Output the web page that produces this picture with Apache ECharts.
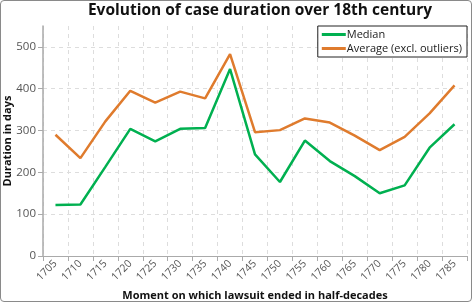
<!DOCTYPE html>
<html>
<head>
<meta charset="utf-8">
<script src="https://cdn.jsdelivr.net/npm/echarts@6/dist/echarts.min.js"></script>
<style>
  html, body { margin: 0; padding: 0; background: #fff; }
  #chart {
    width: 470px;
    height: 300px;
    border: 1px solid #8a8a8a;
    border-radius: 4px;
  }
</style>
</head>
<body>
<div id="chart"></div>
<script>
const years = ["1705", "1710", "1715", "1720", "1725", "1730", "1735", "1740", "1745",
  "1750", "1755", "1760", "1765", "1770", "1775", "1780", "1785"];
const median = [122, 123, 213, 304, 274, 304, 306, 447, 243, 177, 276, 227, 191, 150, 169, 259, 315];
const average = [290, 234, 322, 395, 367, 393, 377, 483, 296, 301, 329, 319, 288, 253, 285, 341, 408];

const chart = echarts.init(document.getElementById("chart"));

const option = {
  animation: false,
  title: {
    text: "Evolution of case duration over 18th century",
    left: 254,
    textAlign: "center",
    top: -3,
    textStyle: {
      fontFamily: "Open Sans",
      fontSize: 15.5,
      fontWeight: "bold",
      color: "#111",
    },
  },
  grid: {
    left: 42,
    right: 4,
    top: 25,
    bottom: 45,
    outerBoundsMode: "none",
    containLabel: false,
  },
  legend: {
    right: 4,
    top: 25,
    orient: "vertical",
    itemWidth: 24,
    itemHeight: 3,
    itemGap: 3,
    padding: [3, 5, 3, 4],
    borderColor: "#222",
    borderWidth: 1,
    borderRadius: 0,
    backgroundColor: "#fff",
    icon: "rect",
    textStyle: {
      fontFamily: "Open Sans",
      fontSize: 11,
      color: "#222",
      padding: [0, 0, 0, -4],
    },
    data: ["Median", "Average (excl. outliers)"],
  },
  xAxis: {
    type: "category",
    data: years,
    boundaryGap: true,
    name: "Moment on which lawsuit ended in half-decades",
    nameLocation: "middle",
    nameGap: 34,
    nameMoveOverlap: false,
    nameTextStyle: {
      fontFamily: "Open Sans",
      fontSize: 11,
      fontWeight: "bold",
      color: "#111",
    },
    axisLine: { lineStyle: { color: "#aaa", width: 1 } },
    axisTick: { show: true, length: 5, lineStyle: { color: "#aaa" } },
    axisLabel: {
      rotate: 45,
      interval: 0,
      fontFamily: "Open Sans",
      fontSize: 10.5,
      color: "#555",
      margin: 6,
    },
    splitLine: {
      show: true,
      lineStyle: { color: "#ddd", type: [4, 4] },
    },
  },
  yAxis: {
    type: "value",
    min: 0,
    max: 550,
    interval: 100,
    name: "Duration in days",
    nameLocation: "middle",
    nameGap: 30,
    nameMoveOverlap: false,
    nameTextStyle: {
      fontFamily: "Open Sans",
      fontSize: 11,
      fontWeight: "bold",
      color: "#111",
    },
    axisLine: { show: true, lineStyle: { color: "#aaa", width: 1.5 } },
    axisTick: { show: true, length: 5, lineStyle: { color: "#aaa" } },
    axisLabel: {
      fontFamily: "Open Sans",
      fontSize: 11.5,
      color: "#555",
      margin: 7,
      showMaxLabel: false,
    },
    splitLine: {
      show: true,
      showMaxLine: false,
      lineStyle: { color: "#ddd", type: [4, 4] },
    },
  },
  series: [
    {
      name: "Median",
      type: "line",
      data: median,
      showSymbol: false,
      lineStyle: { color: "#00b050", width: 2.5 },
      itemStyle: { color: "#00b050" },
    },
    {
      name: "Average (excl. outliers)",
      type: "line",
      data: average,
      showSymbol: false,
      lineStyle: { color: "#df7b2d", width: 2.5 },
      itemStyle: { color: "#df7b2d" },
    },
  ],
};

chart.setOption(option);
</script>
</body>
</html>
